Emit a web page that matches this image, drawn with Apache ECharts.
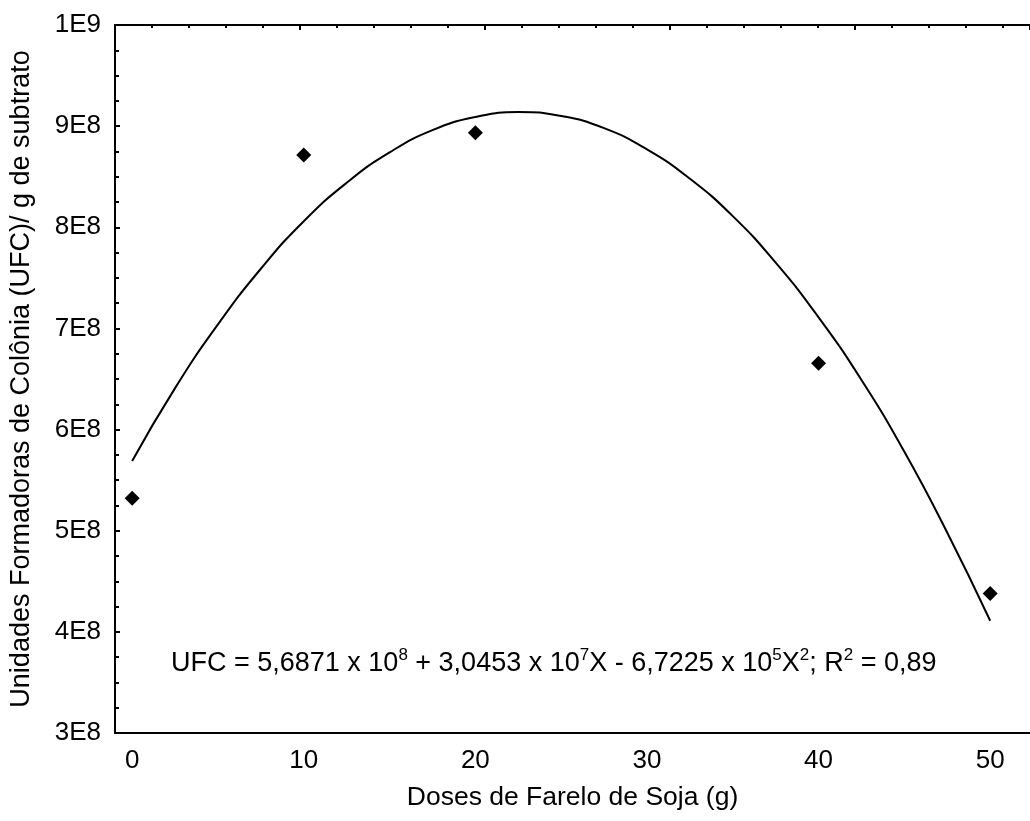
<!DOCTYPE html>
<html>
<head>
<meta charset="utf-8">
<script src="https://cdn.jsdelivr.net/npm/echarts@6/dist/echarts.min.js"></script>
<style>
html,body{margin:0;padding:0;background:#fff;}
#chart{width:1030px;height:821px;}
</style>
</head>
<body>
<div id="chart"></div>
<script>
// Observed data points (dose g, UFC/g)
const doses = [0, 10, 20, 40, 50];
const ufc = [5.32e8, 8.715e8, 8.935e8, 6.655e8, 4.38e8];

// Fitted curve
const curveX = [0, 2.5, 5, 7.5, 10, 12.5, 15, 17.5, 20, 22.5, 25, 27.5, 30, 32.5, 35, 37.5, 40, 42.5, 45, 47.5, 50];
const curveY = [5.69e8, 6.41e8, 7.04e8, 7.59e8, 8.06e8, 8.44e8, 8.74e8, 8.96e8, 9.09e8, 9.14e8, 9.10e8, 8.98e8, 8.77e8, 8.48e8, 8.11e8, 7.65e8, 7.11e8, 6.49e8, 5.78e8, 4.98e8, 4.11e8];

// Tick labels
const xTicks = [0, 10, 20, 30, 40, 50];
const yTickLabels = ['3E8', '4E8', '5E8', '6E8', '7E8', '8E8', '9E8', '1E9'];

const FONT = '"Liberation Sans", Arial, sans-serif';
const chart = echarts.init(document.getElementById('chart'));

chart.setOption({
  animation: false,
  backgroundColor: '#fff',
  textStyle: { fontFamily: FONT, color: '#000' },
  grid: { left: 112, top: 25, width: 918, bottom: 88 },
  xAxis: [{
    type: 'value',
    min: -1,
    max: 52.32,
    position: 'bottom',
    name: 'Doses de Farelo de Soja (g)',
    nameLocation: 'middle',
    nameGap: 51,
    nameTextStyle: { fontFamily: FONT, fontSize: 26.5, color: '#000' },
    axisLine: { show: true, onZero: false, lineStyle: { color: '#000', width: 2 } },
    axisTick: { show: false },
    splitLine: { show: false },
    axisLabel: {
      customValues: xTicks,
      fontFamily: FONT, fontSize: 26, color: '#000', margin: 15
    }
  }, {
    type: 'value',
    min: 0,
    max: 24.73,
    interval: 5,
    position: 'top',
    axisLine: { show: true, onZero: false, lineStyle: { color: '#000', width: 2 } },
    axisTick: { show: true, inside: true, length: 5, lineStyle: { color: '#000', width: 2 } },
    minorTick: { show: true, splitNumber: 5, length: 3, lineStyle: { color: '#000', width: 2 } },
    axisLabel: { show: false },
    splitLine: { show: false }
  }],
  yAxis: {
    type: 'value',
    min: 3e8,
    max: 1e9,
    interval: 1e8,
    name: 'Unidades Formadoras de Colônia (UFC)/ g de subtrato',
    nameLocation: 'middle',
    nameGap: 80,
    nameTextStyle: { fontFamily: FONT, fontSize: 27, color: '#000' },
    axisLine: { show: true, onZero: false, lineStyle: { color: '#000', width: 2 } },
    axisTick: { show: true, inside: true, length: 5, lineStyle: { color: '#000', width: 2 } },
    minorTick: { show: true, splitNumber: 4, length: 4, lineStyle: { color: '#000', width: 2 } },
    splitLine: { show: false },
    axisLabel: {
      fontFamily: FONT, fontSize: 26, color: '#000', margin: 14,
      formatter: function (v) {
        const i = Math.round((v - 3e8) / 1e8);
        return yTickLabels[i] !== undefined ? yTickLabels[i] : '';
      }
    }
  },
  series: [{
    type: 'line',
    data: curveX.map((x, i) => [x, curveY[i]]),
    smooth: true,
    showSymbol: false,
    lineStyle: { color: '#000', width: 2 },
    z: 2
  }, {
    type: 'scatter',
    data: doses.map((x, i) => [x, ufc[i]]),
    symbol: 'diamond',
    symbolSize: [15, 15],
    itemStyle: { color: '#000', opacity: 1 },
    z: 3
  }],
  graphic: [{
    type: 'text',
    left: 171,
    top: 647,
    style: {
      text: 'UFC = 5,6871 x 10{s|8} + 3,0453 x 10{s|7}X - 6,7225 x 10{s|5}X{s|2}; R{s|2} = 0,89',
      fontFamily: FONT,
      fontSize: 27,
      fill: '#000',
      lineHeight: 34,
      rich: {
        s: { fontSize: 17, fontFamily: FONT, fill: '#000', verticalAlign: 'top', lineHeight: 34, padding: [0, 0, 14, 0] }
      }
    }
  }]
});
</script>
</body>
</html>
